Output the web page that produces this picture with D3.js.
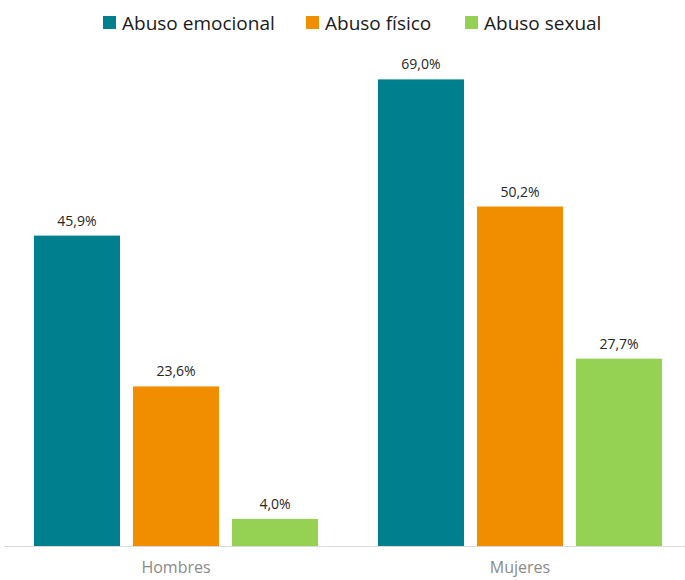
<!DOCTYPE html>
<html><head><meta charset="utf-8">
<script src="https://cdn.jsdelivr.net/npm/d3@7"></script>
<style>body{margin:0;background:#fff;} svg{display:block;font-family:"Open Sans",sans-serif;}</style>
</head><body>
<svg id="c" width="685" height="580"></svg>
<script>
const categories = ["Hombres", "Mujeres"];
const seriesNames = ["Abuso emocional", "Abuso físico", "Abuso sexual"];
const emocional = [45.9, 69.0];
const fisico = [23.6, 50.2];
const sexual = [4.0, 27.7];
const colors = ["#00808f", "#f18e00", "#95d152"];

const seriesValues = [emocional, fisico, sexual];
const data = categories.map((c, i) => ({cat: c, vals: seriesNames.map((s, j) => ({s, v: seriesValues[j][i]}))}));

const svg = d3.select("#c");
const baseY = 546;
const x0 = d3.scaleBand().domain(categories).range([4, 692]).paddingInner(0.174).paddingOuter(0.087);
const x1 = d3.scaleBand().domain(seriesNames).range([0, x0.bandwidth()]).paddingInner(0.131).paddingOuter(0);
const y = d3.scaleLinear().domain([0, 80]).range([baseY, 5]);
const color = d3.scaleOrdinal().domain(seriesNames).range(colors);
const fmt = v => d3.format(".1f")(v).replace(".", ",") + "%";

const g = svg.selectAll("g.grp").data(data).join("g").attr("class", "grp")
  .attr("transform", d => `translate(${x0(d.cat)},0)`);
g.selectAll("rect").data(d => d.vals).join("rect")
  .attr("x", d => x1(d.s)).attr("width", x1.bandwidth())
  .attr("y", d => y(d.v)).attr("height", d => y(0) - y(d.v))
  .attr("fill", d => color(d.s));
g.selectAll("text.lbl").data(d => d.vals).join("text").attr("class", "lbl")
  .attr("x", d => x1(d.s) + x1.bandwidth() / 2).attr("y", d => y(d.v) - 10)
  .attr("text-anchor", "middle").attr("font-size", 14).attr("fill", "#262626")
  .text(d => fmt(d.v));

svg.append("line").attr("x1", 4).attr("x2", 685).attr("y1", baseY + 0.5).attr("y2", baseY + 0.5)
  .attr("stroke", "#d9d9d9").attr("stroke-width", 1);

const xAxis = svg.append("g").attr("transform", `translate(0,${baseY})`)
  .call(d3.axisBottom(x0).tickSize(0).tickPadding(16));
xAxis.select(".domain").remove();
xAxis.selectAll("text").attr("font-size", 16).attr("fill", "#8a8a8a").attr("font-family", "Open Sans");

const legX = [103, 306, 465];
const leg = svg.selectAll("g.leg").data(seriesNames).join("g").attr("class", "leg")
  .attr("transform", (d, i) => `translate(${legX[i]},0)`);
leg.append("rect").attr("x", 0).attr("y", 16).attr("width", 13).attr("height", 13).attr("fill", d => color(d));
leg.append("text").attr("x", 19).attr("y", 30).attr("font-size", 19).attr("fill", "#1a1a1a").text(d => d);
</script>
</body></html>
